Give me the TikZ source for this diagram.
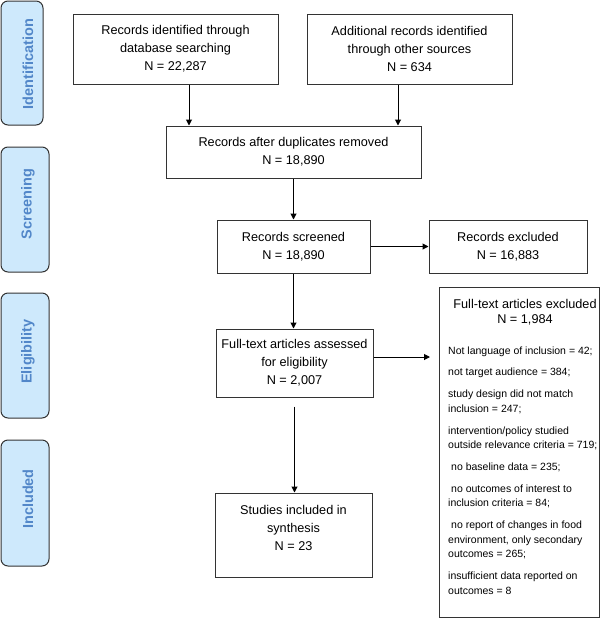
\documentclass[tikz,border=0pt]{standalone}
\usepackage{fontspec}
\setmainfont{Liberation Sans}
\usetikzlibrary{arrows.meta}
\definecolor{stagefill}{RGB}{206,233,252}
\definecolor{stagetext}{RGB}{82,135,201}
\definecolor{boxline}{RGB}{51,51,51}
\tikzset{
  box/.style={draw=boxline, line width=1pt, align=center, inner sep=0pt,
    font=\fontsize{12.7}{18}\selectfont},
  stage/.style={draw=boxline, line width=1pt, fill=stagefill,
    rounded corners=7pt, inner sep=0pt},
  stagelbl/.style={rotate=90, text=stagetext, inner sep=0pt,
    font=\fontsize{14.5}{16}\selectfont\bfseries},
  item/.style={anchor=base west, inner sep=0pt, font=\fontsize{10.5}{13}\selectfont},
}
\begin{document}
\begin{tikzpicture}[x=1pt,y=-1pt]
  \useasboundingbox (0,0) rectangle (600,619);
  % stages on the left
  \node[stage, minimum width=42pt, minimum height=124pt] (identbox) at (22,63) {};
  \node[stage, minimum width=48pt, minimum height=125pt] (screenbox) at (25,209.5) {};
  \node[stage, minimum width=48pt, minimum height=125pt] (eligbox) at (25,355.5) {};
  \node[stage, minimum width=48pt, minimum height=126pt] (inclbox) at (25,503) {};
  \node[stagelbl] (identlbl) at (28,64) {Identification};
  \node[stagelbl] (screenlbl) at (28,204) {Screening};
  \node[stagelbl] (eliglbl) at (28,351.5) {Eligibility};
  \node[stagelbl] (incllbl) at (28,499) {Included};
  % flow boxes
  \node[box, minimum width=205pt, minimum height=70pt] (db) at (175.5,49)
    {Records identified through\\database searching\\N = 22,287};
  \node[box, minimum width=205pt, minimum height=70pt] (other) at (409.5,49)
    {Additional records identified\\through other sources\\N = 634};
  \node[box, minimum width=255pt, minimum height=52pt] (dedup) at (293.5,152)
    {Records after duplicates removed\\N = 18,890};
  \node[box, minimum width=153pt, minimum height=53pt] (screened) at (293.5,246.5)
    {Records screened\\N = 18,890};
  \node[box, minimum width=158pt, minimum height=53pt] (recexcl) at (508,246.5)
    {Records excluded\\N = 16,883};
  \node[box, minimum width=157pt, minimum height=68pt] (fulltext) at (294.5,363)
    {Full-text articles assessed\\for eligibility\\N = 2,007};
  \node[box, minimum width=157pt, minimum height=84pt] (included) at (293.5,535)
    {Studies included in\\synthesis\\N = 23\\[-4pt]\mbox{}};
  \node[box, minimum width=160pt, minimum height=330pt] (ftexcl) at (519.5,452) {};
  \node[align=center, inner sep=0pt, font=\fontsize{12.7}{15}\selectfont]
    (ftexcltitle) at (525,312.5) {Full-text articles excluded\\N = 1,984};
  \foreach \xx/\yy/\txt [count=\i] in {
      448/354/{Not language of inclusion = 42;},
      448/375.9/{not target audience = 384;},
      448/397.7/{study design did not match},
      448/412.2/{inclusion = 247;},
      448/434.1/{intervention/policy studied},
      448/448.6/{outside relevance criteria = 719;},
      451/470.5/{no baseline data = 235;},
      451/492.4/{no outcomes of interest to},
      448/506.9/{inclusion criteria = 84;},
      451/528.8/{no report of changes in food},
      448/543.3/{environment, only secondary},
      448/557.8/{outcomes = 265;},
      448/579.7/{insufficient data reported on},
      448/594.2/{outcomes = 8}}
    \node[item] (excl\i) at (\xx,\yy) {\txt};
  % connectors
  \begin{scope}[-{Triangle[length=6pt,width=6pt]}, line width=1pt]
    \draw ([xshift=13.5pt]db.south) -- ([xshift=13.5pt]db.south |- dedup.north);
    \draw ([xshift=-11.5pt]other.south) -- ([xshift=-11.5pt]other.south |- dedup.north);
    \draw (dedup) -- (screened);
    \draw (screened) -- (recexcl);
    \draw (screened.south) -- (screened.south |- fulltext.north);
    \draw[shorten >=9pt] ([yshift=6pt]fulltext.east) -- ([yshift=6pt]fulltext.east -| ftexcl.west);
    \draw[shorten <=9pt] (fulltext.south) -- (fulltext.south |- included.north);
  \end{scope}
\end{tikzpicture}
\end{document}
